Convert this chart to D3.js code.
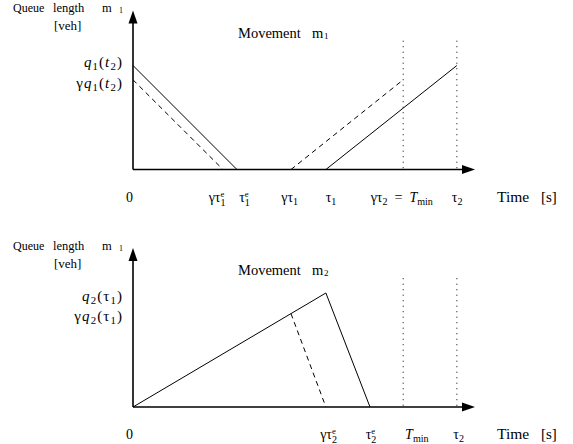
<!DOCTYPE html>
<html>
<head>
<meta charset="utf-8">
<script src="https://cdn.jsdelivr.net/npm/d3@7"></script>
<style>
  body { margin: 0; background: #fff; }
</style>
</head>
<body>
<div id="graph"></div>
<script>
// time values (arbitrary units along the time axis, 0..100)
var gTau1e = 26.3, tau1e = 30.4, gTau1 = 46.2, tau1 = 56.4,
    gTau2 = 79, tau2 = 94.7, gTau2e = 56.4, tau2e = 69.3;

// queue values (arbitrary units, 0..100)
var q1t2 = 65.4, gq1t2 = 56.4, q2tau1 = 71.7, gq2tau1 = 58.7;

// movement m1: discharge, dashed discharge, rebuild, dashed rebuild
var m1Solid1 = [[0, q1t2], [tau1e, 0]];
var m1Dash1 = [[0, gq1t2], [gTau1e, 0]];
var m1Solid2 = [[tau1, 0], [tau2, q1t2]];
var m1Dash2 = [[gTau1, 0], [gTau2, gq1t2]];

// movement m2: build up then discharge
var m2Solid = [[0, 0], [tau1, q2tau1], [tau2e, 0]];
var m2Dash = [[gTau1, gq2tau1], [gTau2e, 0]];

var dottedTimes = [gTau2, tau2];

// tick labels: [position, parts]  i=italic, s=subscript, p=plain, se=sup e over sub digit
var ticksTop = [
  [-1, [["0", "p"]]],
  [24.6, [["γτ", "p"], ["1", "se"]]],
  [32.6, [["τ", "p"], ["1", "se"]]],
  [45.8, [["γτ", "p"], ["1", "s"]]],
  [57.9, [["τ", "p"], ["1", "s"]]],
  [78.6, [["γτ", "p"], ["2", "s"], ["  =  ", "p"], ["T", "i"], ["min", "s"]]],
  [94.8, [["τ", "p"], ["2", "s"]]]
];
var ticksBottom = [
  [-1, [["0", "p"]]],
  [57.2, [["γτ", "p"], ["2", "se"]]],
  [69.6, [["τ", "p"], ["2", "se"]]],
  [83, [["T", "i"], ["min", "s"]]],
  [95.2, [["τ", "p"], ["2", "s"]]]
];
var yLabelsTop = [
  [q1t2 + 2, [["q", "i"], ["1", "s"], ["(", "p"], ["t", "i"], ["2", "s"], [")", "p"]]],
  [gq1t2 - 2, [["γ", "p"], ["q", "i"], ["1", "s"], ["(", "p"], ["t", "i"], ["2", "s"], [")", "p"]]]
];
var yLabelsBottom = [
  [q2tau1 - 2, [["q", "i"], ["2", "s"], ["(τ", "p"], ["1", "s"], [")", "p"]]],
  [q2tau1 - 14.5, [["γ", "p"], ["q", "i"], ["2", "s"], ["(τ", "p"], ["1", "s"], [")", "p"]]]
];

var serif = "'Liberation Serif', 'Times New Roman', Times, serif";

var svg = d3.select("#graph").append("svg")
  .attr("width", 573)
  .attr("height", 444)
  .attr("font-family", serif);

var x = d3.scaleLinear().domain([0, 100]).range([133, 475]);

// builds a label from parts, keeping track of the baseline shift
function richText(sel, parts, size) {
  var shift = 0;
  parts.forEach(function(p) {
    if (p[1] == "se") {
      sel.append("tspan").attr("font-size", size * 0.62).attr("dy", -5 - shift).text("e");
      sel.append("tspan").attr("font-size", size * 0.72).attr("dx", -size * 0.62 * 0.44).attr("dy", 9).text(p[0]);
      shift = 4;
      return;
    }
    var t = sel.append("tspan").text(p[0]);
    if (p[1] == "s") {
      t.attr("font-size", size * 0.72).attr("dy", 3 - shift);
      shift = 3;
    } else {
      if (shift) t.attr("dy", -shift);
      shift = 0;
      if (p[1] == "i") t.attr("font-style", "italic");
    }
  });
}

function word(g, str, x0, y0, size) {
  return g.append("text").attr("x", x0).attr("y", y0)
    .attr("font-size", size)
    .text(str);
}

function panel(y0, titleSub, ticks, yLabels, series, dotTop) {
  var y = d3.scaleLinear().domain([0, 100]).range([y0, y0 - 159]);
  var g = svg.append("g");
  var line = d3.line().x(function(d) { return x(d[0]); }).y(function(d) { return y(d[1]); });

  // dotted guides
  dottedTimes.forEach(function(t) {
    g.append("line")
      .attr("x1", x(t)).attr("x2", x(t))
      .attr("y1", y(dotTop)).attr("y2", y(0))
      .attr("stroke", "#000").attr("stroke-width", 1)
      .attr("stroke-dasharray", "1,4.5");
  });

  series.forEach(function(s) {
    g.append("path")
      .datum(s.data)
      .attr("d", line)
      .attr("fill", "none")
      .attr("stroke", "#000")
      .attr("stroke-width", 1)
      .attr("stroke-dasharray", s.dash ? "5,4" : null);
  });

  // axes
  g.append("line").attr("x1", x(0)).attr("x2", x(100) - 10)
    .attr("y1", y(0)).attr("y2", y(0)).attr("stroke", "#000").attr("stroke-width", 1.6);
  g.append("line").attr("x1", x(0)).attr("x2", x(0))
    .attr("y1", y(0)).attr("y2", y(100) + 10).attr("stroke", "#000").attr("stroke-width", 1.6);
  g.append("path")
    .attr("d", "M" + x(100) + "," + y(0) + "l-13,-4.5l0,9z");
  g.append("path")
    .attr("d", "M" + x(0) + "," + y(100) + "l-4.5,13l9,0z");

  // x tick labels
  ticks.forEach(function(tk) {
    var t = g.append("text")
      .attr("x", x(tk[0])).attr("y", y0 + 32)
      .attr("text-anchor", "middle")
      .attr("font-size", 14)
      .attr("xml:space", "preserve");
    richText(t, tk[1], 14);
  });
  word(g, "Time", 497, y0 + 32, 15.5);
  word(g, "[s]", 541, y0 + 32, 15);

  // y labels
  yLabels.forEach(function(lb) {
    var t = g.append("text")
      .attr("x", 123).attr("y", y(lb[0]) + 5)
      .attr("text-anchor", "end")
      .attr("font-size", 15)
      .attr("letter-spacing", 1.1);
    richText(t, lb[1], 15);
  });

  // axis title
  var ty = y(100) + 1.5;
  word(g, "Queue", 13, ty, 12);
  word(g, "length", 53, ty, 12.5);
  word(g, "m", 102, ty, 12.5);
  g.append("text").attr("x", 119).attr("y", ty + 1).attr("font-size", 8).text("1");
  word(g, "[veh]", 54, ty + 18, 13);

  var my = y(100) + 27;
  word(g, "Movement", 238, my, 14.5);
  word(g, "m", 312, my, 14.5);
  g.append("text").attr("x", 324).attr("y", my + 1).attr("font-size", 9).text(titleSub);
}

panel(169.5, "1", ticksTop, yLabelsTop, [
  { data: m1Solid1 }, { data: m1Dash1, dash: true },
  { data: m1Solid2 }, { data: m1Dash2, dash: true }
], 81);

panel(407, "2", ticksBottom, yLabelsBottom, [
  { data: m2Solid }, { data: m2Dash, dash: true }
], 81);
</script>
</body>
</html>
